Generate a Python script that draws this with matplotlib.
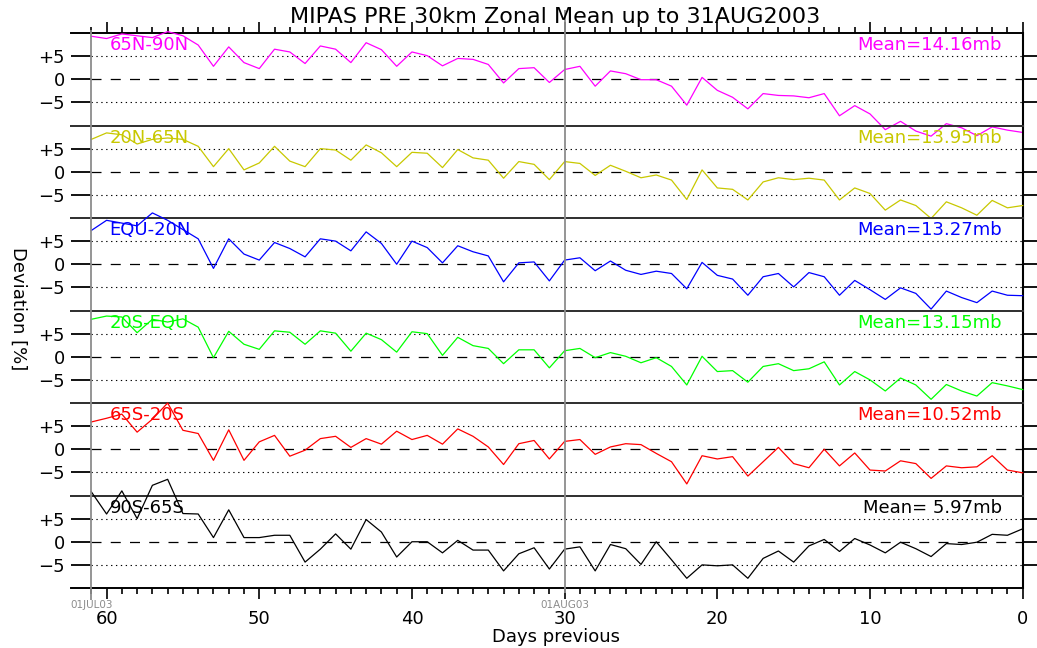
import numpy as np
import matplotlib
matplotlib.use("Agg")
import matplotlib.pyplot as plt

# Day offsets before 31AUG2003 (61 = 01JUL03 ... 0 = 31AUG03)
days = np.arange(61, -1, -1)

dev_65n_90n = [9.3, 8.8, 9.8, 9.4, 9.0, 10.3, 9.4, 7.4, 2.8, 7.0,
               3.6, 2.3, 6.5, 5.9, 3.4, 7.2, 6.5, 3.6, 7.9, 6.4,
               2.8, 5.9, 5.1, 2.9, 4.5, 4.3, 3.2, -0.8, 2.3, 2.5,
               -0.7, 2.1, 2.8, -1.5, 1.8, 1.2, -0.1, -0.1, -1.5, -5.6,
               0.4, -2.4, -3.9, -6.4, -3.1, -3.5, -3.6, -4.0, -3.1, -7.9,
               -5.7, -7.5, -10.9, -9.1, -11.2, -12.3, -9.6, -10.5, -12.2, -10.3,
               -11.0, -11.5]
dev_20n_65n = [7.0, 8.4, 8.0, 6.0, 7.0, 7.3, 7.0, 5.5, 1.1, 5.0,
               0.4, 1.9, 5.5, 2.3, 1.1, 5.0, 4.7, 2.5, 5.8, 4.1,
               1.1, 4.2, 4.0, 0.9, 4.8, 3.0, 2.5, -1.4, 2.2, 1.6,
               -1.7, 2.2, 1.8, -0.8, 1.4, 0.1, -1.3, -0.7, -1.8, -6.0,
               0.4, -3.5, -3.8, -6.1, -2.2, -1.3, -1.7, -1.4, -1.8, -6.1,
               -3.5, -4.7, -8.3, -6.1, -7.3, -10.1, -6.5, -7.8, -9.4, -6.2,
               -7.8, -7.3]
dev_equ_20n = [7.3, 9.5, 8.9, 8.3, 11.1, 9.5, 7.5, 5.5, -0.9, 5.5,
               2.2, 0.9, 4.7, 3.4, 1.6, 5.5, 5.0, 2.9, 7.0, 4.5,
               0.0, 5.0, 3.6, 0.3, 4.0, 2.7, 1.8, -3.8, 0.3, 0.5,
               -3.6, 0.9, 1.4, -1.4, 0.7, -1.3, -2.2, -1.5, -2.0, -5.3,
               0.4, -2.4, -3.2, -6.7, -2.7, -2.0, -4.9, -1.8, -2.7, -6.7,
               -3.5, -5.5, -7.6, -5.1, -6.3, -9.7, -5.8, -7.2, -8.3, -5.8,
               -6.7, -6.8]
dev_20s_equ = [8.1, 8.8, 8.6, 5.2, 8.1, 7.5, 8.2, 6.4, -0.2, 5.5,
               2.7, 1.6, 5.6, 5.3, 2.7, 5.6, 5.1, 1.2, 5.1, 3.7,
               1.0, 5.4, 5.0, 0.3, 4.2, 2.4, 1.8, -1.5, 1.5, 1.5,
               -2.4, 1.3, 1.8, -0.2, 0.9, 0.1, -1.3, -0.2, -2.1, -6.1,
               0.1, -3.2, -3.0, -5.5, -2.1, -1.5, -3.0, -2.6, -1.1, -6.1,
               -3.2, -5.0, -7.4, -4.6, -6.1, -9.2, -6.0, -7.4, -8.5, -5.6,
               -6.3, -7.1]
dev_65s_20s = [5.9, 6.7, 7.6, 3.7, 6.5, 10.0, 4.1, 3.4, -2.4, 4.2,
               -2.4, 1.6, 3.0, -1.5, -0.2, 2.3, 2.8, 0.4, 2.3, 1.1,
               3.9, 2.1, 3.0, 1.1, 4.4, 2.8, 0.5, -3.3, 1.2, 1.9,
               -2.1, 1.7, 2.1, -1.1, 0.5, 1.2, 1.0, -0.9, -2.7, -7.5,
               -1.4, -2.1, -1.6, -5.8, -2.7, 0.4, -3.1, -4.0, 0.0, -3.6,
               -0.8, -4.5, -4.7, -2.5, -3.1, -6.3, -3.6, -4.0, -3.8, -1.4,
               -4.5, -5.1]
dev_90s_65s = [10.8, 6.0, 11.0, 5.0, 12.2, 13.5, 6.1, 6.0, 0.9, 6.9,
               0.9, 0.9, 1.4, 1.4, -4.4, -1.6, 1.7, -1.6, 4.8, 2.1,
               -3.3, 0.0, 0.0, -2.4, 0.3, -1.8, -1.8, -6.3, -2.6, -1.3,
               -5.9, -1.6, -1.1, -6.3, -0.6, -1.5, -4.9, 0.0, -3.9, -7.9,
               -5.0, -5.2, -5.0, -7.9, -3.6, -2.0, -4.4, -0.9, 0.5, -2.1,
               0.7, -0.7, -2.4, -0.1, -1.5, -3.2, -0.4, -0.6, -0.1, 1.6,
               1.4, 2.8]

series = [dev_65n_90n, dev_20n_65n, dev_equ_20n, dev_20s_equ, dev_65s_20s, dev_90s_65s]
regions = ["65N-90N", "20N-65N", "EQU-20N", "20S-EQU", "65S-20S", "90S-65S"]
mean_labels = ["Mean=14.16mb", "Mean=13.95mb", "Mean=13.27mb",
               "Mean=13.15mb", "Mean=10.52mb", "Mean= 5.97mb"]
colors = ["#ff00ff", "#c8c800", "#0000ff", "#00ff00", "#ff0000", "#000000"]

ytick_vals = [-5, 0, 5]
ytick_labels = ["\u22125", "0", "+5"]
xtick_vals = [60, 50, 40, 30, 20, 10, 0]
date_marks = [61, 30]
date_labels = ["01JUL03", "01AUG03"]

title = "MIPAS PRE 30km Zonal Mean up to 31AUG2003"

W_PX, H_PX = 1037, 648
fig = plt.figure(figsize=(W_PX / 100, H_PX / 100), dpi=100)
fig.patch.set_facecolor("white")

L, R = 71 / W_PX, 1022.7 / W_PX
B, T = 1 - 588 / H_PX, 1 - 33 / H_PX
PH = (T - B) / 6
XLEFT = 62.33
FS = 13

for i, (vals, reg, mlab, col) in enumerate(zip(series, regions, mean_labels, colors)):
    ax = fig.add_axes([L, T - (i + 1) * PH, R - L, PH])
    ax.set_xlim(XLEFT, 0)
    ax.set_ylim(-10, 10)
    ax.set_facecolor("none")

    # reference lines: dotted at +/-5, dashed at 0
    ax.hlines([ytick_vals[0], ytick_vals[2]], date_marks[0], 0, colors="black",
              linewidth=0.8, linestyles=(0, (1.2, 3.2)), zorder=1)
    ax.hlines(ytick_vals[1], date_marks[0], 0, colors="black",
              linewidth=0.9, linestyles=(0, (8, 7.4)), zorder=1)

    ax.plot(days, vals, color=col, linewidth=0.9, clip_on=False, zorder=3)

    ax.text(59.8, 7.3, reg, color=col, fontsize=FS, ha="left", va="center", zorder=4)
    ax.text(1.35, 7.3, mlab, color=col, fontsize=FS, ha="right", va="center", zorder=4)

    # spines
    ax.spines["left"].set_visible(False)
    ax.spines["right"].set_visible(False)
    for s in ("top", "bottom"):
        ax.spines[s].set_color("#333333")
        ax.spines[s].set_linewidth(1.4)

    # left ticks point inward from the frame edge
    ax.set_yticks(ytick_vals)
    ax.set_yticklabels(ytick_labels)
    ax.tick_params(axis="y", which="both", left=True, right=False, direction="in",
                   length=14.5, width=1.3, pad=4.5, labelsize=FS)

    # right axis with outward ticks
    sec = ax.secondary_yaxis("right")
    sec.set_yticks(ytick_vals)
    sec.tick_params(axis="y", direction="out", length=12, width=1.3, labelright=False)
    sec.spines["right"].set_linewidth(1.5)
    sec.spines["right"].set_color("black")

    ax.set_xticks(xtick_vals)
    ax.set_xticks(days, minor=True)
    if i == 0:
        ax.spines["top"].set_color("black")
        ax.tick_params(axis="x", which="both", top=True, bottom=False,
                       labeltop=False, labelbottom=False, direction="out", width=1.2)
        ax.tick_params(axis="x", which="major", length=8)
        ax.tick_params(axis="x", which="minor", length=4)
    elif i == 5:
        ax.spines["bottom"].set_color("black")
        ax.tick_params(axis="x", which="both", top=False, bottom=True,
                       labelbottom=True, direction="out", width=1.2, labelsize=FS)
        ax.tick_params(axis="x", which="major", length=8, pad=8)
        ax.tick_params(axis="x", which="minor", length=4)
    else:
        ax.tick_params(axis="x", which="both", top=False, bottom=False,
                       labelbottom=False)

# date marker lines spanning the whole stack
ov = fig.add_axes([L, B, R - L, T - B])
ov.set_xlim(XLEFT, 0)
ov.set_ylim(0, 1)
ov.axis("off")
for d, lab, y0, y1 in zip(date_marks, date_labels, [-0.022, -0.009], [1.005, 1.041]):
    ov.vlines(d, y0, y1, colors="#8c8c8c", linewidth=1.3, clip_on=False, zorder=0)
    ov.text(d, -0.031, lab, color="#8c8c8c", fontsize=7.5, ha="center", va="center")

fig.text(555 / W_PX, 1 - 17 / H_PX, title, fontsize=16, ha="center", va="center")
fig.text(18 / W_PX, 1 - 309 / H_PX, "Deviation [%]", fontsize=FS, rotation=-90,
         ha="center", va="center")
fig.text(556 / W_PX, 1 - 637 / H_PX, "Days previous", fontsize=FS,
         ha="center", va="center")

fig.savefig("out.png", dpi=100)
